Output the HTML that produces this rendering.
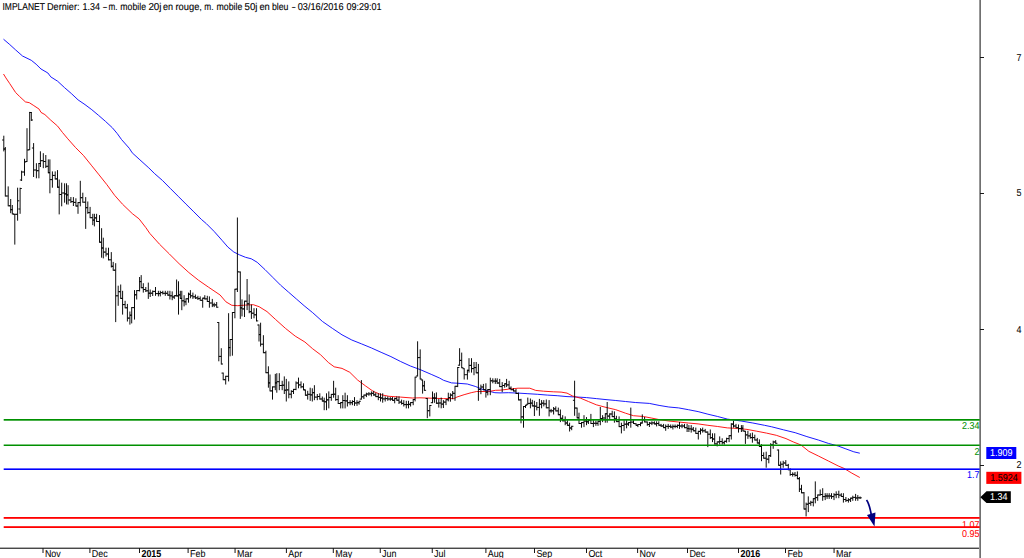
<!DOCTYPE html>
<html><head><meta charset="utf-8"><title>IMPLANET</title>
<style>
html,body{margin:0;padding:0;background:#fff;}
body{width:1024px;height:558px;overflow:hidden;position:relative;font-family:"Liberation Sans",sans-serif;}
svg{position:absolute;left:0;top:0;}
text{font-family:"Liberation Sans",sans-serif;font-size:10px;text-rendering:geometricPrecision;paint-order:stroke;}
</style></head><body>
<svg width="1024" height="558" viewBox="0 0 1024 558">
<g fill="#000" stroke="#000" stroke-width="0.12">
<text x="2.5" y="9.5" textLength="42.4" lengthAdjust="spacingAndGlyphs">IMPLANET</text>
<text x="47.0" y="9.5" textLength="32.5" lengthAdjust="spacingAndGlyphs">Dernier:</text>
<text x="82.5" y="9.5" textLength="17.4" lengthAdjust="spacingAndGlyphs">1.34</text>
<text x="102.5" y="9.5" textLength="5.0" lengthAdjust="spacingAndGlyphs">-</text>
<text x="108.5" y="9.5" textLength="9.0" lengthAdjust="spacingAndGlyphs">m.</text>
<text x="120.3" y="9.5" textLength="25.7" lengthAdjust="spacingAndGlyphs">mobile</text>
<text x="148.4" y="9.5" textLength="13.1" lengthAdjust="spacingAndGlyphs">20j</text>
<text x="163.0" y="9.5" textLength="10.1" lengthAdjust="spacingAndGlyphs">en</text>
<text x="175.5" y="9.5" textLength="26.4" lengthAdjust="spacingAndGlyphs">rouge,</text>
<text x="204.3" y="9.5" textLength="9.2" lengthAdjust="spacingAndGlyphs">m.</text>
<text x="216.5" y="9.5" textLength="25.8" lengthAdjust="spacingAndGlyphs">mobile</text>
<text x="244.6" y="9.5" textLength="12.9" lengthAdjust="spacingAndGlyphs">50j</text>
<text x="259.4" y="9.5" textLength="10.4" lengthAdjust="spacingAndGlyphs">en</text>
<text x="271.9" y="9.5" textLength="16.6" lengthAdjust="spacingAndGlyphs">bleu</text>
<text x="291.5" y="9.5" textLength="4.4" lengthAdjust="spacingAndGlyphs">-</text>
<text x="297.8" y="9.5" textLength="45.7" lengthAdjust="spacingAndGlyphs">03/16/2016</text>
<text x="346.5" y="9.5" textLength="35.1" lengthAdjust="spacingAndGlyphs">09:29:01</text>
</g>
<polyline fill="none" stroke="#0000ff" stroke-width="0.9" stroke-linejoin="round" points="3.5,39.2 9.8,44.6 15.6,49.9 22.5,56.0 31.3,60.3 36.1,64.2 41.0,69.0 47.9,73.0 50.8,76.9 57.6,81.2 64.5,87.6 71.3,93.5 78.1,99.9 85.0,104.6 91.8,109.7 98.6,115.4 105.5,121.4 112.3,127.7 117.2,133.5 121.5,139.5 129.3,148.3 132.2,152.8 139.1,159.1 148.8,167.9 154.7,173.7 162.5,180.5 170.3,188.4 178.1,196.2 185.9,204.0 193.8,211.8 201.6,219.6 206.4,223.7 214.2,231.5 222.0,240.3 227.9,247.1 233.8,252.0 239.6,254.9 245.5,257.3 251.3,258.8 257.2,262.3 265.0,269.6 272.8,277.4 280.6,285.2 288.4,292.0 296.3,298.9 304.1,305.7 312.7,312.7 322.5,321.5 332.3,328.3 342.0,334.8 351.8,340.0 361.6,343.9 371.3,347.9 381.1,352.3 390.9,356.6 400.6,361.5 410.4,366.0 420.2,369.6 431.8,374.6 439.7,378.1 443.6,380.3 451.5,382.9 457.0,383.2 467.3,384.0 475.2,386.4 478.3,387.6 483.0,389.6 487.0,390.7 494.9,392.7 500.0,392.9 508.4,392.7 518.1,393.1 527.9,393.7 537.7,394.3 547.4,395.1 557.2,395.7 567.0,396.6 576.7,397.0 586.5,397.6 596.3,398.6 606.0,399.6 615.8,400.5 625.5,401.5 635.3,402.5 649.3,403.4 659.1,405.4 668.8,407.0 678.6,407.9 688.4,409.7 698.1,411.6 707.9,414.2 717.7,416.5 727.4,419.1 741.1,421.0 752.8,423.0 764.5,425.3 771.7,426.8 783.4,429.8 795.2,432.7 806.9,436.6 818.6,440.1 828.4,443.4 838.1,446.0 845.9,448.9 853.8,451.8 859.8,453.2"/>
<polyline fill="none" stroke="#ff0000" stroke-width="0.9" stroke-linejoin="round" points="3.5,74.0 5.9,77.9 9.8,83.7 15.6,92.5 19.5,96.4 25.4,101.9 29.3,102.7 33.2,105.2 39.1,109.1 41.0,112.4 44.9,114.6 50.8,120.2 57.6,126.1 62.5,132.5 67.8,138.8 75.6,147.6 83.4,155.4 91.3,165.2 99.1,174.9 106.9,184.7 114.7,195.4 122.5,204.2 132.3,213.6 139.1,218.9 145.9,227.7 149.8,233.4 159.5,244.2 169.3,253.9 179.1,263.7 188.8,272.5 198.6,280.3 208.4,287.1 220.1,295.0 225.9,301.8 231.8,305.3 237.7,305.7 245.5,305.1 253.3,304.7 259.1,306.7 267.0,311.6 275.6,319.5 285.4,328.3 295.2,336.1 304.9,342.0 312.7,348.8 320.5,354.7 328.4,362.5 334.2,366.8 342.0,368.4 349.8,372.3 357.7,380.1 365.5,385.9 373.3,391.4 381.1,394.7 388.9,396.3 400.6,397.1 412.3,398.0 420.0,397.8 443.6,398.6 453.9,398.6 457.0,397.0 464.1,394.7 471.2,392.7 476.7,391.5 485.4,391.5 490.9,391.1 495.6,390.3 500.0,390.2 508.4,389.2 518.1,388.2 529.8,388.2 535.7,390.4 543.5,391.2 553.3,391.8 561.1,392.1 567.0,393.1 572.8,396.1 580.6,398.2 588.4,401.5 596.3,404.8 606.0,407.4 615.8,409.7 625.5,413.2 633.4,415.7 643.4,416.5 651.3,418.0 659.1,419.6 668.8,421.0 678.6,422.0 688.4,423.0 698.1,423.9 707.9,425.3 717.7,426.5 727.4,427.9 737.2,428.4 747.0,429.4 756.7,431.2 766.5,433.1 776.3,435.3 786.0,438.6 793.2,441.9 801.0,445.0 808.8,451.3 818.6,456.1 828.4,461.0 838.1,465.9 844.0,468.4 851.8,473.1 859.8,477.5"/>
<path fill="none" stroke="#000" stroke-width="0.95" d="M3.8 135.7V151.4M3.8 140.0h-1.7M3.8 149.0h1.7M5.3 147.0V196.5M5.3 149.0h-1.7M5.3 196.0h1.7M8.2 186.4V206.3M8.2 196.0h-1.7M8.2 205.8h1.7M10.7 199.0V213.2M10.7 205.8h-1.7M10.7 209.7h1.7M12.3 205.0V214.4M12.3 209.7h-1.7M12.3 213.9h1.7M14.8 213.8V244.6M14.8 214.3h-1.7M14.8 214.3h1.7M17.6 187.7V220.7M17.6 214.3h-1.7M17.6 200.8h1.7M20.1 187.7V213.8M20.1 209.0h-1.7M20.1 188.5h1.7M21.6 170.7V181.0M21.6 180.0h-1.7M21.6 172.0h1.7M24.5 158.8V175.8M24.5 172.0h-1.7M24.5 162.0h1.7M27.0 128.2V162.0M27.0 161.5h-1.7M27.0 150.0h1.7M29.7 111.9V150.1M29.7 149.8h-1.7M29.7 112.5h1.7M31.3 112.0V121.0M31.3 112.5h-1.7M31.3 120.0h1.7M33.6 143.1V177.0M33.6 148.0h-1.7M33.6 170.0h1.7M36.4 163.2V178.3M36.4 170.0h-1.7M36.4 170.7h1.7M38.9 163.0V178.3M38.9 170.7h-1.7M38.9 163.5h1.7M40.4 151.3V167.0M40.4 163.5h-1.7M40.4 160.7h1.7M43.3 153.2V168.2M43.3 160.7h-1.7M43.3 161.5h1.7M45.8 155.0V168.0M45.8 161.5h-1.7M45.8 166.3h1.7M48.3 159.4V173.2M48.3 166.3h-1.7M48.3 172.7h1.7M49.9 159.4V193.3M49.9 172.7h-1.7M49.9 179.6h1.7M52.4 171.4V187.7M52.4 179.6h-1.7M52.4 175.4h1.7M55.2 171.4V179.5M55.2 175.4h-1.7M55.2 178.9h1.7M57.5 170.1V187.7M57.5 178.9h-1.7M57.5 187.2h1.7M59.2 179.5V214.4M59.2 187.2h-1.7M59.2 194.5h1.7M61.7 182.7V206.3M61.7 194.5h-1.7M61.7 193.0h1.7M64.6 183.3V202.7M64.6 193.0h-1.7M64.6 193.9h1.7M66.5 183.3V204.4M66.5 193.9h-1.7M66.5 194.9h1.7M68.1 185.2V204.6M68.1 194.9h-1.7M68.1 200.0h1.7M70.9 197.0V203.0M70.9 200.0h-1.7M70.9 201.6h1.7M73.4 197.1V206.0M73.4 201.6h-1.7M73.4 202.4h1.7M75.9 198.3V206.5M75.9 202.4h-1.7M75.9 206.0h1.7M78.0 202.1V213.8M78.0 206.0h-1.7M78.0 202.6h1.7M80.3 180.8V206.3M80.3 202.6h-1.7M80.3 197.7h1.7M82.8 192.7V202.7M82.8 197.7h-1.7M82.8 202.2h1.7M85.7 197.1V228.9M85.7 202.2h-1.7M85.7 207.7h1.7M87.8 201.5V213.8M87.8 207.7h-1.7M87.8 212.6h1.7M90.1 206.9V218.2M90.1 212.6h-1.7M90.1 217.7h1.7M92.8 213.8V225.1M92.8 217.7h-1.7M92.8 220.1h1.7M94.4 213.8V226.4M94.4 220.1h-1.7M94.4 217.9h1.7M96.6 213.8V222.0M96.6 217.9h-1.7M96.6 221.5h1.7M99.5 215.1V242.7M99.5 221.5h-1.7M99.5 242.2h1.7M101.6 228.2V257.7M101.6 242.2h-1.7M101.6 248.0h1.7M103.3 237.7V258.4M103.3 248.0h-1.7M103.3 252.1h1.7M106.0 247.7V256.5M106.0 252.1h-1.7M106.0 254.0h1.7M108.5 247.7V260.4M108.5 254.0h-1.7M108.5 259.8h1.7M111.3 252.1V267.5M111.3 259.8h-1.7M111.3 266.3h1.7M113.2 261.9V270.7M113.2 266.3h-1.7M113.2 270.2h1.7M115.7 263.2V322.1M115.7 270.2h-1.7M115.7 295.8h1.7M118.2 285.7V305.8M118.2 295.8h-1.7M118.2 291.7h1.7M120.7 284.5V298.9M120.7 291.7h-1.7M120.7 298.4h1.7M122.6 290.8V314.6M122.6 298.4h-1.7M122.6 304.6h1.7M125.1 300.8V308.3M125.1 304.6h-1.7M125.1 307.8h1.7M127.4 303.9V321.5M127.4 307.8h-1.7M127.4 318.1h1.7M129.9 311.5V324.6M129.9 318.1h-1.7M129.9 315.2h1.7M131.7 307.1V323.4M131.7 315.2h-1.7M131.7 307.6h1.7M134.5 290.1V319.6M134.5 307.6h-1.7M134.5 294.8h1.7M136.7 290.1V299.5M136.7 294.8h-1.7M136.7 290.6h1.7M139.6 277.0V291.4M139.6 290.6h-1.7M139.6 281.6h1.7M141.2 275.1V288.2M141.2 281.6h-1.7M141.2 287.7h1.7M143.3 283.2V292.6M143.3 287.7h-1.7M143.3 289.5h1.7M145.8 287.0V292.0M145.8 289.5h-1.7M145.8 290.8h1.7M148.3 282.6V298.9M148.3 290.8h-1.7M148.3 293.2h1.7M150.2 289.5V297.0M150.2 293.2h-1.7M150.2 293.2h1.7M152.7 290.5V296.0M152.7 293.2h-1.7M152.7 291.4h1.7M155.5 287.0V295.8M155.5 291.4h-1.7M155.5 293.6h1.7M158.4 290.8V296.4M158.4 293.6h-1.7M158.4 293.6h1.7M160.3 290.8V296.4M160.3 293.6h-1.7M160.3 292.6h1.7M162.8 290.8V294.5M162.8 292.6h-1.7M162.8 293.3h1.7M165.3 290.8V295.8M165.3 293.3h-1.7M165.3 293.3h1.7M167.8 290.8V295.8M167.8 293.3h-1.7M167.8 295.1h1.7M169.9 290.8V299.5M169.9 295.1h-1.7M169.9 295.8h1.7M172.2 291.4V300.2M172.2 295.8h-1.7M172.2 297.0h1.7M174.3 295.2V298.9M174.3 297.0h-1.7M174.3 295.7h1.7M176.6 279.5V296.4M176.6 295.7h-1.7M176.6 295.9h1.7M178.5 281.3V314.6M178.5 295.9h-1.7M178.5 294.9h1.7M180.3 290.8V298.9M180.3 294.9h-1.7M180.3 298.4h1.7M181.8 290.8V310.2M181.8 298.4h-1.7M181.8 300.8h1.7M184.1 295.2V306.4M184.1 300.8h-1.7M184.1 301.8h1.7M186.0 298.3V305.2M186.0 301.8h-1.7M186.0 298.8h1.7M188.5 292.6V302.7M188.5 298.8h-1.7M188.5 294.2h1.7M190.4 290.1V298.3M190.4 294.2h-1.7M190.4 295.8h1.7M192.9 292.6V298.9M192.9 295.8h-1.7M192.9 296.8h1.7M195.4 294.5V299.0M195.4 296.8h-1.7M195.4 297.9h1.7M197.9 295.8V300.0M197.9 297.9h-1.7M197.9 298.6h1.7M200.2 296.4V300.8M200.2 298.6h-1.7M200.2 300.3h1.7M202.7 297.7V307.7M202.7 300.3h-1.7M202.7 298.2h1.7M204.8 295.2V299.5M204.8 298.2h-1.7M204.8 298.9h1.7M207.3 295.8V302.0M207.3 298.9h-1.7M207.3 301.5h1.7M209.4 296.4V307.7M209.4 301.5h-1.7M209.4 303.0h1.7M212.3 298.9V307.1M212.3 303.0h-1.7M212.3 304.9h1.7M214.2 302.7V307.1M214.2 304.9h-1.7M214.2 304.9h1.7M216.7 302.0V307.7M216.7 304.9h-1.7M216.7 307.2h1.7M218.8 322.0V361.3M218.8 322.5h-1.7M218.8 356.4h1.7M221.3 348.2V364.5M221.3 356.4h-1.7M221.3 364.0h1.7M223.2 372.6V380.2M223.2 373.1h-1.7M223.2 379.7h1.7M225.7 375.8V384.5M225.7 379.7h-1.7M225.7 376.3h1.7M228.6 313.2V381.4M228.6 376.3h-1.7M228.6 347.6h1.7M230.1 339.0V356.3M230.1 347.6h-1.7M230.1 339.5h1.7M232.4 312.0V355.7M232.4 339.5h-1.7M232.4 312.5h1.7M234.9 288.8V318.3M234.9 312.5h-1.7M234.9 289.3h1.7M237.4 217.5V292.0M237.4 289.0h-1.7M237.4 271.8h1.7M240.3 271.5V318.9M240.3 272.0h-1.7M240.3 307.9h1.7M242.0 299.4V316.4M242.0 307.9h-1.7M242.0 308.9h1.7M244.5 300.7V317.0M244.5 308.9h-1.7M244.5 301.2h1.7M247.1 279.0V310.1M247.1 301.2h-1.7M247.1 303.8h1.7M249.2 294.4V313.2M249.2 303.8h-1.7M249.2 311.7h1.7M251.4 304.5V318.9M251.4 311.7h-1.7M251.4 313.2h1.7M254.0 308.2V318.3M254.0 313.2h-1.7M254.0 314.8h1.7M256.5 308.2V321.4M256.5 314.8h-1.7M256.5 320.9h1.7M259.0 324.5V341.5M259.0 325.0h-1.7M259.0 334.6h1.7M260.6 322.7V346.5M260.6 334.6h-1.7M260.6 344.2h1.7M263.4 335.2V353.2M263.4 344.2h-1.7M263.4 352.7h1.7M265.9 350.7V373.2M265.9 352.7h-1.7M265.9 372.7h1.7M268.4 366.3V387.7M268.4 372.7h-1.7M268.4 382.9h1.7M270.0 374.5V391.4M270.0 382.9h-1.7M270.0 390.9h1.7M272.5 386.4V399.6M272.5 390.9h-1.7M272.5 386.9h1.7M275.3 373.9V390.2M275.3 386.9h-1.7M275.3 382.9h1.7M276.8 373.2V392.7M276.8 382.9h-1.7M276.8 381.7h1.7M279.3 373.2V390.2M279.3 381.7h-1.7M279.3 385.5h1.7M282.2 380.8V390.2M282.2 385.5h-1.7M282.2 385.2h1.7M284.3 376.4V394.0M284.3 385.2h-1.7M284.3 390.2h1.7M286.3 378.9V401.5M286.3 390.2h-1.7M286.3 389.9h1.7M288.8 381.4V398.3M288.8 389.9h-1.7M288.8 394.2h1.7M291.3 390.2V398.3M291.3 394.2h-1.7M291.3 391.4h1.7M293.5 388.9V394.0M293.5 391.4h-1.7M293.5 389.4h1.7M296.0 381.4V390.2M296.0 389.4h-1.7M296.0 383.0h1.7M298.5 377.6V388.3M298.5 383.0h-1.7M298.5 384.9h1.7M301.0 381.4V388.3M301.0 384.9h-1.7M301.0 386.8h1.7M303.5 383.3V390.2M303.5 386.8h-1.7M303.5 389.7h1.7M305.4 389.6V395.8M305.4 390.1h-1.7M305.4 395.2h1.7M307.7 390.8V399.6M307.7 395.2h-1.7M307.7 394.3h1.7M310.2 387.7V400.9M310.2 394.3h-1.7M310.2 394.9h1.7M312.3 388.3V401.5M312.3 394.9h-1.7M312.3 392.7h1.7M314.4 385.2V400.2M314.4 392.7h-1.7M314.4 397.1h1.7M317.3 394.0V400.2M317.3 397.1h-1.7M317.3 396.5h1.7M319.8 393.3V399.6M319.8 396.5h-1.7M319.8 399.0h1.7M322.3 396.5V401.5M322.3 399.0h-1.7M322.3 401.0h1.7M324.2 397.7V410.2M324.2 401.0h-1.7M324.2 401.8h1.7M326.5 393.3V410.2M326.5 401.8h-1.7M326.5 399.9h1.7M328.8 391.4V408.4M328.8 399.9h-1.7M328.8 397.4h1.7M331.3 393.9V400.8M331.3 397.4h-1.7M331.3 394.4h1.7M333.6 380.8V397.7M333.6 394.4h-1.7M333.6 394.2h1.7M335.7 387.7V400.8M335.7 394.2h-1.7M335.7 399.6h1.7M338.2 395.2V404.0M338.2 399.6h-1.7M338.2 403.5h1.7M340.7 402.1V408.4M340.7 403.5h-1.7M340.7 402.6h1.7M342.8 395.2V408.4M342.8 402.6h-1.7M342.8 400.5h1.7M345.1 392.7V408.4M345.1 400.5h-1.7M345.1 400.9h1.7M347.4 395.2V406.5M347.4 400.9h-1.7M347.4 402.7h1.7M350.1 400.2V405.2M350.1 402.7h-1.7M350.1 402.7h1.7M352.4 400.2V405.2M352.4 402.7h-1.7M352.4 401.5h1.7M354.5 397.1V405.9M354.5 401.5h-1.7M354.5 403.0h1.7M357.0 400.2V405.9M357.0 403.0h-1.7M357.0 402.7h1.7M359.1 400.8V404.6M359.1 402.7h-1.7M359.1 401.3h1.7M361.4 380.1V399.6M361.4 399.1h-1.7M361.4 396.8h1.7M363.9 394.6V399.0M363.9 396.8h-1.7M363.9 395.1h1.7M366.4 392.7V397.1M366.4 395.1h-1.7M366.4 394.0h1.7M368.9 392.1V395.8M368.9 394.0h-1.7M368.9 393.9h1.7M371.4 391.4V396.4M371.4 393.9h-1.7M371.4 393.3h1.7M373.7 390.8V395.8M373.7 393.3h-1.7M373.7 394.9h1.7M375.8 392.7V397.1M375.8 394.9h-1.7M375.8 396.6h1.7M378.3 393.3V400.2M378.3 396.6h-1.7M378.3 397.4h1.7M380.5 393.3V401.5M380.5 397.4h-1.7M380.5 398.0h1.7M382.7 393.3V402.7M382.7 398.0h-1.7M382.7 398.9h1.7M385.2 396.4V401.5M385.2 398.9h-1.7M385.2 398.6h1.7M387.8 396.4V400.8M387.8 398.6h-1.7M387.8 399.0h1.7M390.3 397.1V400.8M390.3 399.0h-1.7M390.3 399.0h1.7M392.5 397.1V400.8M392.5 399.0h-1.7M392.5 400.3h1.7M394.7 397.7V403.3M394.7 400.3h-1.7M394.7 398.6h1.7M396.8 396.4V400.8M396.8 398.6h-1.7M396.8 400.2h1.7M399.0 396.4V404.0M399.0 400.2h-1.7M399.0 402.1h1.7M401.6 399.6V404.6M401.6 402.1h-1.7M401.6 403.4h1.7M403.8 400.2V406.5M403.8 403.4h-1.7M403.8 404.6h1.7M406.3 400.8V408.4M406.3 404.6h-1.7M406.3 404.6h1.7M408.5 400.8V408.4M408.5 404.6h-1.7M408.5 404.3h1.7M410.6 402.1V406.5M410.6 404.3h-1.7M410.6 402.6h1.7M413.2 399.0V405.2M413.2 402.6h-1.7M413.2 399.5h1.7M415.1 376.7V401.4M415.1 399.5h-1.7M415.1 377.2h1.7M417.6 341.3V376.4M417.6 376.0h-1.7M417.6 357.6h1.7M420.2 349.4V379.5M420.2 357.6h-1.7M420.2 379.0h1.7M422.6 379.5V393.6M422.6 380.0h-1.7M422.6 385.8h1.7M424.4 380.8V390.8M424.4 385.8h-1.7M424.4 390.3h1.7M427.3 398.0V418.2M427.3 398.5h-1.7M427.3 410.7h1.7M429.8 405.0V416.4M429.8 410.7h-1.7M429.8 405.5h1.7M432.5 391.5V403.2M432.5 402.7h-1.7M432.5 398.0h1.7M434.4 393.2V402.8M434.4 398.0h-1.7M434.4 398.1h1.7M436.4 392.4V403.9M436.4 398.1h-1.7M436.4 403.2h1.7M438.8 398.8V407.6M438.8 403.2h-1.7M438.8 403.0h1.7M441.2 397.6V408.3M441.2 403.0h-1.7M441.2 404.1h1.7M443.4 400.1V408.0M443.4 404.1h-1.7M443.4 402.1h1.7M446.0 399.2V405.1M446.0 402.1h-1.7M446.0 399.7h1.7M448.3 392.7V401.4M448.3 399.7h-1.7M448.3 397.5h1.7M450.4 393.3V401.7M450.4 397.5h-1.7M450.4 395.1h1.7M452.7 391.0V399.2M452.7 395.1h-1.7M452.7 393.3h1.7M455.0 385.8V400.8M455.0 393.3h-1.7M455.0 386.3h1.7M457.7 367.0V387.1M457.7 386.3h-1.7M457.7 367.5h1.7M459.6 348.2V365.7M459.6 365.2h-1.7M459.6 360.4h1.7M461.7 352.6V368.2M461.7 360.4h-1.7M461.7 367.7h1.7M464.2 368.2V379.5M464.2 368.7h-1.7M464.2 374.7h1.7M467.4 369.8V379.6M467.4 374.7h-1.7M467.4 370.3h1.7M469.0 358.2V372.6M469.0 370.3h-1.7M469.0 365.4h1.7M471.5 358.2V372.6M471.5 365.4h-1.7M471.5 368.6h1.7M474.0 362.0V375.2M474.0 368.6h-1.7M474.0 367.6h1.7M476.2 362.0V373.3M476.2 367.6h-1.7M476.2 372.8h1.7M478.4 363.9V400.8M478.4 372.8h-1.7M478.4 389.4h1.7M480.9 384.6V394.2M480.9 389.4h-1.7M480.9 387.0h1.7M483.4 383.9V390.2M483.4 387.0h-1.7M483.4 389.7h1.7M485.9 383.3V397.6M485.9 389.7h-1.7M485.9 392.2h1.7M487.8 389.0V395.4M487.8 392.2h-1.7M487.8 389.5h1.7M490.3 377.7V395.2M490.3 389.5h-1.7M490.3 380.8h1.7M492.8 378.3V383.3M492.8 380.8h-1.7M492.8 381.1h1.7M495.3 378.3V383.9M495.3 381.1h-1.7M495.3 381.1h1.7M497.2 378.3V383.9M497.2 381.1h-1.7M497.2 383.0h1.7M499.7 378.9V387.1M499.7 383.0h-1.7M499.7 386.6h1.7M502.2 382.1V392.1M502.2 386.6h-1.7M502.2 385.5h1.7M504.7 383.3V387.7M504.7 385.5h-1.7M504.7 383.8h1.7M506.6 378.9V387.1M506.6 383.8h-1.7M506.6 384.9h1.7M509.1 380.8V389.0M509.1 384.9h-1.7M509.1 388.3h1.7M511.0 386.4V390.2M511.0 388.3h-1.7M511.0 389.7h1.7M513.5 388.3V391.5M513.5 389.7h-1.7M513.5 391.0h1.7M516.0 389.0V394.0M516.0 391.0h-1.7M516.0 393.5h1.7M518.5 392.6V400.4M518.5 393.5h-1.7M518.5 399.9h1.7M521.0 398.8V423.3M521.0 399.9h-1.7M521.0 416.9h1.7M523.5 406.0V427.7M523.5 416.9h-1.7M523.5 406.5h1.7M525.5 404.8V408.0M525.5 406.5h-1.7M525.5 405.3h1.7M527.8 397.6V404.8M527.8 404.3h-1.7M527.8 403.4h1.7M530.4 398.5V408.3M530.4 403.4h-1.7M530.4 403.1h1.7M532.3 399.8V406.4M532.3 403.1h-1.7M532.3 405.9h1.7M534.4 400.8V416.0M534.4 405.9h-1.7M534.4 406.2h1.7M536.8 402.0V410.4M536.8 406.2h-1.7M536.8 407.4h1.7M539.4 398.9V415.8M539.4 407.4h-1.7M539.4 404.2h1.7M541.6 400.1V408.3M541.6 404.2h-1.7M541.6 403.2h1.7M543.8 400.1V406.4M543.8 403.2h-1.7M543.8 403.9h1.7M546.3 399.5V408.3M546.3 403.9h-1.7M546.3 407.8h1.7M549.1 400.1V416.4M549.1 407.8h-1.7M549.1 410.8h1.7M551.1 408.9V412.7M551.1 410.8h-1.7M551.1 410.8h1.7M553.6 407.0V414.5M553.6 410.8h-1.7M553.6 408.9h1.7M555.8 406.4V411.4M555.8 408.9h-1.7M555.8 410.9h1.7M558.3 407.6V415.2M558.3 410.9h-1.7M558.3 414.7h1.7M560.4 409.5V422.1M560.4 414.7h-1.7M560.4 418.3h1.7M562.7 415.2V421.4M562.7 418.3h-1.7M562.7 420.8h1.7M565.2 416.4V425.2M565.2 420.8h-1.7M565.2 423.0h1.7M567.4 420.2V425.8M567.4 423.0h-1.7M567.4 425.3h1.7M569.6 422.7V431.5M569.6 425.3h-1.7M569.6 428.0h1.7M571.7 425.8V430.2M571.7 428.0h-1.7M571.7 426.3h1.7M574.6 380.7V415.8M574.6 400.3h-1.7M574.6 408.0h1.7M577.1 407.6V418.3M577.1 408.1h-1.7M577.1 417.8h1.7M579.0 412.7V424.0M579.0 417.8h-1.7M579.0 423.5h1.7M581.5 422.1V427.7M581.5 423.5h-1.7M581.5 422.6h1.7M584.0 415.2V427.1M584.0 422.6h-1.7M584.0 421.1h1.7M586.5 417.1V425.2M586.5 421.1h-1.7M586.5 421.8h1.7M588.4 419.6V424.0M588.4 421.8h-1.7M588.4 420.1h1.7M590.9 413.9V424.0M590.9 420.1h-1.7M590.9 423.5h1.7M593.4 420.2V427.1M593.4 423.5h-1.7M593.4 423.3h1.7M595.9 420.8V425.8M595.9 423.3h-1.7M595.9 423.3h1.7M598.0 420.8V425.8M598.0 423.3h-1.7M598.0 421.3h1.7M600.3 407.0V425.2M600.3 421.3h-1.7M600.3 418.6h1.7M602.6 415.2V422.1M602.6 418.6h-1.7M602.6 418.0h1.7M605.3 413.3V422.7M605.3 418.0h-1.7M605.3 413.8h1.7M607.2 402.0V422.7M607.2 413.8h-1.7M607.2 416.1h1.7M609.7 413.3V418.9M609.7 416.1h-1.7M609.7 414.0h1.7M612.2 410.8V417.1M612.2 414.0h-1.7M612.2 416.6h1.7M614.4 411.4V422.7M614.4 416.6h-1.7M614.4 419.0h1.7M616.4 415.8V422.1M616.4 419.0h-1.7M616.4 421.6h1.7M619.1 416.4V427.1M619.1 421.6h-1.7M619.1 426.6h1.7M621.4 422.7V433.4M621.4 426.6h-1.7M621.4 425.5h1.7M624.1 420.2V430.9M624.1 425.5h-1.7M624.1 424.2h1.7M626.6 420.2V428.3M626.6 424.2h-1.7M626.6 424.0h1.7M628.5 422.1V425.8M628.5 424.0h-1.7M628.5 422.6h1.7M630.8 407.6V427.7M630.8 422.6h-1.7M630.8 422.1h1.7M633.5 420.2V424.0M633.5 422.1h-1.7M633.5 423.5h1.7M636.1 423.3V425.8M636.1 423.8h-1.7M636.1 425.3h1.7M637.9 424.0V427.1M637.9 425.3h-1.7M637.9 424.5h1.7M640.5 422.5V426.2M640.5 424.5h-1.7M640.5 423.0h1.7M642.3 414.4V423.5M642.3 423.0h-1.7M642.3 419.7h1.7M644.6 417.0V422.4M644.6 419.7h-1.7M644.6 421.9h1.7M647.3 421.5V425.8M647.3 422.0h-1.7M647.3 424.5h1.7M649.4 422.0V427.0M649.4 424.5h-1.7M649.4 423.2h1.7M651.9 421.3V425.1M651.9 423.2h-1.7M651.9 422.9h1.7M654.4 421.3V424.5M654.4 422.9h-1.7M654.4 423.9h1.7M656.6 421.3V426.4M656.6 423.9h-1.7M656.6 423.5h1.7M658.8 421.3V425.7M658.8 423.5h-1.7M658.8 425.2h1.7M661.1 423.9V427.0M661.1 425.2h-1.7M661.1 426.0h1.7M663.6 423.9V428.2M663.6 426.0h-1.7M663.6 427.6h1.7M665.7 424.5V430.8M665.7 427.6h-1.7M665.7 426.4h1.7M668.2 423.9V428.9M668.2 426.4h-1.7M668.2 426.4h1.7M670.7 424.5V428.2M670.7 426.4h-1.7M670.7 427.0h1.7M672.9 424.5V429.5M672.9 427.0h-1.7M672.9 426.4h1.7M675.1 424.5V428.2M675.1 426.4h-1.7M675.1 426.4h1.7M677.4 424.5V428.2M677.4 426.4h-1.7M677.4 425.4h1.7M679.5 422.0V428.9M679.5 425.4h-1.7M679.5 426.0h1.7M682.0 423.9V428.2M682.0 426.0h-1.7M682.0 426.0h1.7M684.5 423.9V428.2M684.5 426.0h-1.7M684.5 427.7h1.7M687.1 423.9V432.0M687.1 427.7h-1.7M687.1 428.6h1.7M688.9 425.1V432.0M688.9 428.6h-1.7M688.9 428.9h1.7M691.2 425.1V432.6M691.2 428.9h-1.7M691.2 429.2h1.7M693.3 427.0V431.4M693.3 429.2h-1.7M693.3 430.8h1.7M695.8 427.6V433.9M695.8 430.8h-1.7M695.8 433.4h1.7M698.3 430.8V439.5M698.3 433.4h-1.7M698.3 431.4h1.7M700.5 428.2V434.5M700.5 431.4h-1.7M700.5 430.1h1.7M702.7 427.6V432.6M702.7 430.1h-1.7M702.7 430.8h1.7M705.2 428.9V432.6M705.2 430.8h-1.7M705.2 432.1h1.7M707.8 431.4V447.1M707.8 432.1h-1.7M707.8 434.2h1.7M710.3 429.5V438.9M710.3 434.2h-1.7M710.3 437.7h1.7M712.5 433.3V442.1M712.5 437.7h-1.7M712.5 439.0h1.7M714.7 433.3V444.6M714.7 439.0h-1.7M714.7 443.9h1.7M717.2 441.4V446.4M717.2 443.9h-1.7M717.2 441.9h1.7M719.7 436.4V444.6M719.7 441.9h-1.7M719.7 441.5h1.7M722.2 438.3V444.6M722.2 441.5h-1.7M722.2 442.7h1.7M724.3 440.8V444.6M724.3 442.7h-1.7M724.3 441.3h1.7M726.6 437.7V442.7M726.6 441.3h-1.7M726.6 438.6h1.7M729.1 435.2V442.1M729.1 438.6h-1.7M729.1 435.7h1.7M731.3 423.2V439.5M731.3 435.7h-1.7M731.3 424.1h1.7M733.5 420.7V427.6M733.5 424.1h-1.7M733.5 426.0h1.7M736.0 423.9V428.2M736.0 426.0h-1.7M736.0 427.7h1.7M738.5 424.5V432.6M738.5 427.7h-1.7M738.5 428.6h1.7M741.4 425.1V432.0M741.4 428.6h-1.7M741.4 428.2h1.7M742.9 425.1V431.4M742.9 428.2h-1.7M742.9 430.9h1.7M745.4 430.8V443.9M745.4 431.3h-1.7M745.4 434.9h1.7M747.9 430.8V438.9M747.9 434.9h-1.7M747.9 435.9h1.7M750.3 433.2V438.6M750.3 435.9h-1.7M750.3 437.6h1.7M752.4 432.6V442.7M752.4 437.6h-1.7M752.4 437.6h1.7M754.8 434.7V440.5M754.8 437.6h-1.7M754.8 440.0h1.7M757.3 437.9V443.5M757.3 440.0h-1.7M757.3 443.0h1.7M759.4 439.4V447.0M759.4 443.0h-1.7M759.4 446.5h1.7M761.5 444.2V461.2M761.5 446.5h-1.7M761.5 455.5h1.7M763.7 452.3V458.7M763.7 455.5h-1.7M763.7 458.2h1.7M766.2 451.7V467.7M766.2 458.2h-1.7M766.2 459.2h1.7M768.8 455.1V463.3M768.8 459.2h-1.7M768.8 455.6h1.7M770.7 443.2V457.0M770.7 455.6h-1.7M770.7 444.8h1.7M773.2 440.7V448.8M773.2 444.8h-1.7M773.2 442.0h1.7M775.7 440.1V443.8M775.7 442.0h-1.7M775.7 443.3h1.7M778.6 449.5V465.8M778.6 450.0h-1.7M778.6 465.3h1.7M780.7 461.4V474.5M780.7 465.3h-1.7M780.7 464.2h1.7M783.2 460.8V467.7M783.2 464.2h-1.7M783.2 463.0h1.7M785.8 460.1V465.8M785.8 463.0h-1.7M785.8 465.3h1.7M788.3 463.9V470.2M788.3 465.3h-1.7M788.3 469.7h1.7M790.2 468.3V475.8M790.2 469.7h-1.7M790.2 474.5h1.7M792.7 472.3V476.6M792.7 474.5h-1.7M792.7 474.3h1.7M795.0 472.0V476.6M795.0 474.3h-1.7M795.0 475.3h1.7M797.4 471.4V479.2M797.4 475.3h-1.7M797.4 478.7h1.7M799.4 477.0V492.0M799.4 478.7h-1.7M799.4 489.1h1.7M801.5 484.8V493.3M801.5 489.1h-1.7M801.5 492.8h1.7M804.0 492.0V509.5M804.0 492.8h-1.7M804.0 509.0h1.7M806.1 502.6V516.4M806.1 509.0h-1.7M806.1 504.2h1.7M808.3 496.4V512.1M808.3 504.2h-1.7M808.3 503.3h1.7M810.8 500.8V505.8M810.8 503.3h-1.7M810.8 502.3h1.7M813.3 498.2V506.4M813.3 502.3h-1.7M813.3 498.7h1.7M815.3 481.4V503.3M815.3 498.7h-1.7M815.3 497.6h1.7M817.7 494.5V500.8M817.7 497.6h-1.7M817.7 495.0h1.7M820.2 489.5V495.7M820.2 495.0h-1.7M820.2 494.5h1.7M822.7 488.2V500.8M822.7 494.5h-1.7M822.7 496.6h1.7M825.2 493.2V500.1M825.2 496.6h-1.7M825.2 496.0h1.7M827.1 493.2V498.9M827.1 496.0h-1.7M827.1 496.0h1.7M829.2 493.2V498.9M829.2 496.0h-1.7M829.2 496.0h1.7M831.5 493.2V498.9M831.5 496.0h-1.7M831.5 496.6h1.7M834.0 493.2V500.1M834.0 496.6h-1.7M834.0 494.8h1.7M836.2 491.3V498.2M836.2 494.8h-1.7M836.2 494.4h1.7M838.8 490.7V498.2M838.8 494.4h-1.7M838.8 495.1h1.7M841.3 493.2V497.0M841.3 495.1h-1.7M841.3 496.5h1.7M843.4 493.2V502.6M843.4 496.5h-1.7M843.4 499.5h1.7M845.9 497.0V502.0M845.9 499.5h-1.7M845.9 500.4h1.7M848.4 498.2V502.6M848.4 500.4h-1.7M848.4 499.8h1.7M850.6 497.6V502.0M850.6 499.8h-1.7M850.6 498.2h1.7M852.8 495.7V500.8M852.8 498.2h-1.7M852.8 497.4h1.7M855.6 493.9V500.8M855.6 497.4h-1.7M855.6 498.0h1.7M857.8 495.1V500.8M857.8 498.0h-1.7M857.8 497.8h1.7M860.1 496.5V499.0M860.1 497.8h-1.7M860.1 497.8h1.7"/>
<g shape-rendering="crispEdges">
<rect x="0" y="547" width="980" height="1" fill="#b0b0b0"/>
<rect x="0" y="548" width="980" height="1" fill="#484848"/>
<rect x="979" y="0" width="1" height="558" fill="#989898"/>
<rect x="980" y="0" width="1" height="558" fill="#707070"/>
<rect x="980" y="57" width="4" height="1" fill="#181818"/>
<rect x="980" y="193" width="4" height="1" fill="#181818"/>
<rect x="980" y="329" width="4" height="1" fill="#181818"/>
<rect x="980" y="465" width="4" height="1" fill="#181818"/>
</g>
<rect x="42.50" y="548" width="1" height="5" fill="#181818"/>
<rect x="89.40" y="548" width="1" height="5" fill="#181818"/>
<rect x="139.00" y="548" width="1" height="5" fill="#181818"/>
<rect x="187.60" y="548" width="1" height="5" fill="#181818"/>
<rect x="234.56" y="548" width="1" height="5" fill="#181818"/>
<rect x="285.90" y="548" width="1" height="5" fill="#181818"/>
<rect x="332.80" y="548" width="1" height="5" fill="#181818"/>
<rect x="379.75" y="548" width="1" height="5" fill="#181818"/>
<rect x="431.75" y="548" width="1" height="5" fill="#181818"/>
<rect x="485.40" y="548" width="1" height="5" fill="#181818"/>
<rect x="534.00" y="548" width="1" height="5" fill="#181818"/>
<rect x="586.00" y="548" width="1" height="5" fill="#181818"/>
<rect x="637.10" y="548" width="1" height="5" fill="#181818"/>
<rect x="687.00" y="548" width="1" height="5" fill="#181818"/>
<rect x="738.00" y="548" width="1" height="5" fill="#181818"/>
<rect x="785.00" y="548" width="1" height="5" fill="#181818"/>
<rect x="833.56" y="548" width="1" height="5" fill="#181818"/>
<rect x="3.7" y="419.00" width="976.0" height="1.70" fill="#009000"/>
<rect x="3.7" y="444.50" width="976.0" height="1.50" fill="#009000"/>
<rect x="3.7" y="468.40" width="976.0" height="1.60" fill="#0000ff"/>
<rect x="3.7" y="517.00" width="976.0" height="1.80" fill="#ff0000"/>
<rect x="3.7" y="526.20" width="976.0" height="1.80" fill="#ff0000"/>
<text transform="translate(44.9 557.0) scale(0.895 1)" text-anchor="start" fill="#000" stroke="#000" stroke-width="0.05">Nov</text>
<text transform="translate(91.8 557.0) scale(0.895 1)" text-anchor="start" fill="#000" stroke="#000" stroke-width="0.05">Dec</text>
<text transform="translate(141.4 557.0) scale(0.895 1)" text-anchor="start" fill="#000" stroke="#000" stroke-width="0.05" font-weight="bold">2015</text>
<text transform="translate(190.0 557.0) scale(0.895 1)" text-anchor="start" fill="#000" stroke="#000" stroke-width="0.05">Feb</text>
<text transform="translate(237.0 557.0) scale(0.895 1)" text-anchor="start" fill="#000" stroke="#000" stroke-width="0.05">Mar</text>
<text transform="translate(288.3 557.0) scale(0.895 1)" text-anchor="start" fill="#000" stroke="#000" stroke-width="0.05">Apr</text>
<text transform="translate(335.2 557.0) scale(0.895 1)" text-anchor="start" fill="#000" stroke="#000" stroke-width="0.05">May</text>
<text transform="translate(382.1 557.0) scale(0.895 1)" text-anchor="start" fill="#000" stroke="#000" stroke-width="0.05">Jun</text>
<text transform="translate(434.1 557.0) scale(0.895 1)" text-anchor="start" fill="#000" stroke="#000" stroke-width="0.05">Jul</text>
<text transform="translate(487.8 557.0) scale(0.895 1)" text-anchor="start" fill="#000" stroke="#000" stroke-width="0.05">Aug</text>
<text transform="translate(536.4 557.0) scale(0.895 1)" text-anchor="start" fill="#000" stroke="#000" stroke-width="0.05">Sep</text>
<text transform="translate(588.4 557.0) scale(0.895 1)" text-anchor="start" fill="#000" stroke="#000" stroke-width="0.05">Oct</text>
<text transform="translate(639.5 557.0) scale(0.895 1)" text-anchor="start" fill="#000" stroke="#000" stroke-width="0.05">Nov</text>
<text transform="translate(689.4 557.0) scale(0.895 1)" text-anchor="start" fill="#000" stroke="#000" stroke-width="0.05">Dec</text>
<text transform="translate(740.4 557.0) scale(0.895 1)" text-anchor="start" fill="#000" stroke="#000" stroke-width="0.05" font-weight="bold">2016</text>
<text transform="translate(787.4 557.0) scale(0.895 1)" text-anchor="start" fill="#000" stroke="#000" stroke-width="0.05">Feb</text>
<text transform="translate(836.0 557.0) scale(0.895 1)" text-anchor="start" fill="#000" stroke="#000" stroke-width="0.05">Mar</text>
<text transform="translate(1021.6 61.0) scale(0.895 1)" text-anchor="end" fill="#000" stroke="#000" stroke-width="0.05">7</text>
<text transform="translate(1021.6 196.2) scale(0.895 1)" text-anchor="end" fill="#000" stroke="#000" stroke-width="0.05">5</text>
<text transform="translate(1021.6 332.8) scale(0.895 1)" text-anchor="end" fill="#000" stroke="#000" stroke-width="0.05">4</text>
<text transform="translate(1021.6 468.3) scale(0.895 1)" text-anchor="end" fill="#000" stroke="#000" stroke-width="0.05">2</text>
<text transform="translate(979.5 429.2) scale(0.895 1)" text-anchor="end" fill="#009000" stroke="#009000" stroke-width="0.05">2.34</text>
<text transform="translate(979.5 454.9) scale(0.895 1)" text-anchor="end" fill="#009000" stroke="#009000" stroke-width="0.05">2</text>
<text transform="translate(979.5 478.3) scale(0.895 1)" text-anchor="end" fill="#0000ff" stroke="#0000ff" stroke-width="0.05">1.7</text>
<text transform="translate(979.5 527.5) scale(0.895 1)" text-anchor="end" fill="#ff0000" stroke="#ff0000" stroke-width="0.05">1.07</text>
<text transform="translate(979.5 536.5) scale(0.895 1)" text-anchor="end" fill="#ff0000" stroke="#ff0000" stroke-width="0.05">0.95</text>
<rect x="986.3" y="447" width="30" height="12" fill="#0000ff"/>
<text transform="translate(1001.3 456.3) scale(0.895 1)" text-anchor="middle" fill="#fff" stroke="#fff" stroke-width="0.05">1.909</text>
<rect x="986.3" y="471.8" width="35.1" height="12.1" fill="#ff0000"/>
<text transform="translate(1004.0 480.9) scale(0.895 1)" text-anchor="middle" fill="#000" stroke="#000" stroke-width="0.05">1.5924</text>
<polygon points="980.3,497.3 986.5,491.3 1010.8,491.3 1010.8,502.9 986.5,502.9" fill="#000"/>
<text transform="translate(998.8 500.4) scale(0.895 1)" text-anchor="middle" fill="#fff" stroke="#fff" stroke-width="0.05">1.34</text>
<path d="M866.5 500 Q869.5 504 871.5 516" fill="none" stroke="#000080" stroke-width="1.7"/>
<polygon points="867,515 875.5,512.5 874.5,526.5" fill="#000080"/>
</svg></body></html>
